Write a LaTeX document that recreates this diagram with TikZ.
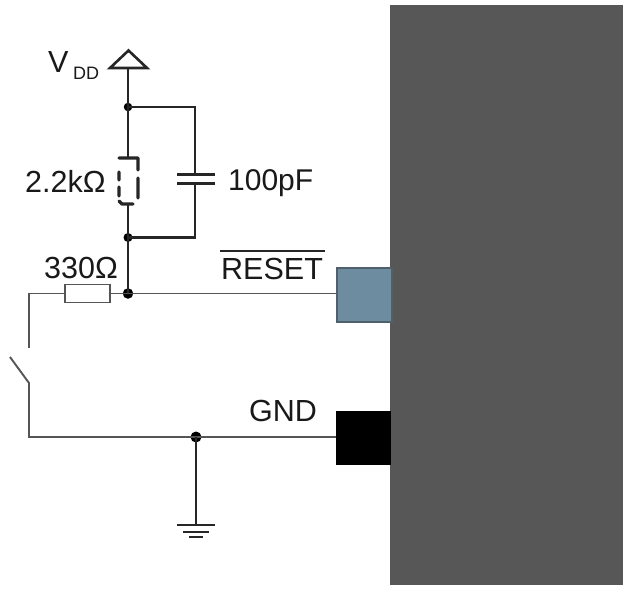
\documentclass[tikz,border=0pt]{standalone}
\usepackage{fontspec}
\setmainfont{Liberation Sans}
\definecolor{chip}{HTML}{575757}
\definecolor{padblue}{HTML}{6E8CA0}
\definecolor{padedge}{HTML}{4F5F6C}
\definecolor{wiregray}{HTML}{555555}
\tikzset{
  dark/.style={line width=2.6pt,draw=black!85},
  thinwire/.style={line width=1.9pt,draw=wiregray},
  junction/.style={circle,fill=black,inner sep=0pt,minimum size=10.5pt},
  lbl/.style={inner sep=0pt,anchor=base west,font=\fontsize{30.5}{30.5}\selectfont,text=black!90},
  padbox/.style={inner sep=0pt,minimum width=55pt,minimum height=54pt,anchor=north west},
}
\begin{document}
\begin{tikzpicture}[x=1pt,y=-1pt]
\useasboundingbox (0,0) rectangle (626,589);
\fill[white] (0,0) rectangle (626,589);
\node[fill=chip,inner sep=0pt,minimum width=233pt,minimum height=580pt,anchor=north west] (chipbody) at (390,5) {};
\node[padbox,fill=padblue,draw=padedge,line width=1.5pt] (resetpad) at (336,267) {};
\node[padbox,fill=black] (gndpad) at (336,411) {};
% coordinates
\coordinate (vtop) at (128,68);
\node[junction,minimum size=8.5pt] (j1) at (128,107) {};
\coordinate (rtop) at (128,158);
\coordinate (rbot) at (128,204);
\node[junction,minimum size=9pt] (j2) at (128,237.5) {};
\node[junction] (j3) at (128,293.5) {};
\coordinate (ptop) at (195,174.5);
\coordinate (pbot) at (195,183.5);
\node[draw=wiregray,line width=1.9pt,fill=white,inner sep=0pt,minimum width=45pt,minimum height=18pt] (r330) at (87.5,293.5) {};
\coordinate (sw1) at (29,293.5);
\coordinate (sw2) at (29,348);
\coordinate (sw3) at (10,357);
\coordinate (sw4) at (29,383);
\coordinate (sw5) at (29,437);
\node[junction,minimum size=11pt] (j4) at (196,437) {};
\coordinate (gtop) at (196,525);
\coordinate (wireR) at (336,293.5);
\coordinate (wireG) at (336,437);
% VDD symbol
\draw[dark,line join=miter] (110,68) -- (128.5,50.5) -- (147,68) -- cycle;
% upper rail
\draw[dark] (vtop) -- (j1.center) -- (rtop);
\draw[dark] (rbot) -- (j2.center) -- (j3.center);
\draw[dark] (j1.center) -| (ptop);
\draw[dark] (pbot) |- (j2.center);
\draw[dark] (177,174.5) -- (215,174.5);
\draw[dark] (177,183.5) -- (215,183.5);
% dashed resistor
\draw[line width=3.4pt,line cap=round,black!85,line join=round]
  (119,158) -- (138,158) -- (138,170)
  (138,178) -- (138,198)
  (119,172) -- (119,180)
  (119,187) -- (119,196)
  (119,201) -- (122,204) -- (133,204);
% lower wires
\draw[thinwire] (r330.east) -- (j3.center);
\draw[thinwire] (j3.center) -- (wireR);
\draw[thinwire] (r330.west) -- (sw1) -- (sw2);
\draw[thinwire] (sw3) -- (sw4) -- (sw5) -- (j4.center);
\draw[thinwire] (j4.center) -- (wireG);
\draw[dark] (j4.center) -- (gtop);
\draw[dark] (177,525) -- (215,525);
\draw[dark] (183,532) -- (209,532);
\draw[line width=2.6pt,black!85] (189,537) -- (203,537);
% labels
\node[lbl] (vlabel) at (48,72) {V};
\node[lbl,font=\fontsize{18}{18}\selectfont] (ddlabel) at (73,79) {DD};
\node[lbl] (rlabel) at (25,192) {2.2kΩ};
\node[lbl,font=\fontsize{30}{30}\selectfont] (clabel) at (228,190) {100pF};
\node[lbl] (r2label) at (44,278) {330Ω};
\node[lbl] (resetlabel) at (221,279) {RESET};
\draw[line width=1.6pt,black!85] (220,251) -- (325,251);
\node[lbl] (gndlabel) at (249,421) {GND};
\end{tikzpicture}
\end{document}
